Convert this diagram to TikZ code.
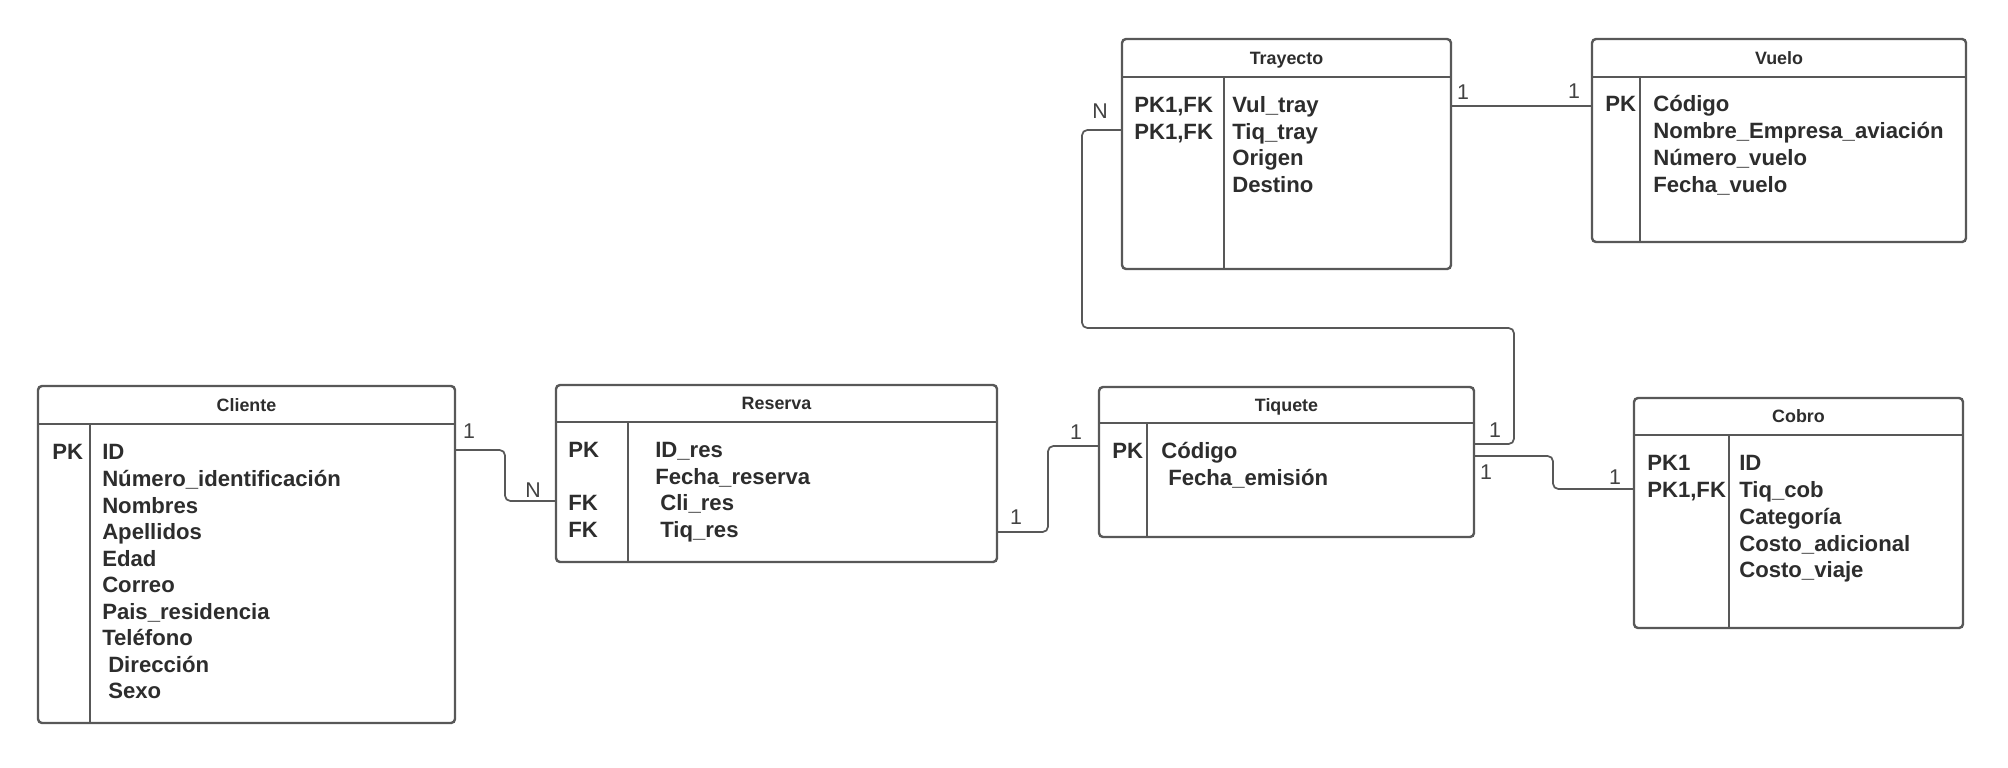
\documentclass[tikz,border=0pt]{standalone}
\usepackage{fontspec}
\setmainfont{Liberation Sans}
\begin{document}
\definecolor{lineclr}{RGB}{88,88,88}
\definecolor{txtclr}{RGB}{45,45,45}
\begin{tikzpicture}[x=0.75pt,y=-0.75pt,
  entbox/.style={draw=lineclr,line width=1.8pt,rounded corners=3pt,inner sep=0pt,fill=white},
  entline/.style={draw=lineclr,line width=1.8pt},
  enttitle/.style={anchor=base,inner sep=0pt,text=txtclr,font=\fontsize{13.4}{16}\selectfont\bfseries},
  field/.style={anchor=base west,inner sep=0pt,text=txtclr,font=\fontsize{16.6}{19}\selectfont\bfseries},
  card/.style={anchor=base,inner sep=0pt,text=txtclr!90,font=\fontsize{16}{19}\selectfont},
  conn/.style={draw=lineclr,line width=1.3pt,rounded corners=4pt}]

\useasboundingbox[fill=white] (0,0) rectangle (2008,767);

% entity box: name, left, top, right, bottom, header line y, divider x, title
\newcommand{\erentity}[8]{%
  \node[entbox,minimum width={(#4-#2)*0.75pt},minimum height={(#5-#3)*0.75pt}]
    (#1) at ({(#2+#4)/2},{(#3+#5)/2}) {};
  \draw[entline] (#2,#6) -- (#4,#6);
  \draw[entline] (#7,#6) -- (#7,#5);
  \node[enttitle] (#1-title) at ({(#2+#4)/2},{(#3+#6)/2+6.4}) {#8};
}

\erentity{cli}{38}{386}{455}{723}{424}{90}{Cliente}
\erentity{res}{556}{385}{997}{562}{422}{628}{Reserva}
\erentity{tiq}{1099}{387}{1474}{537}{423}{1147}{Tiquete}
\erentity{tra}{1122}{39}{1451}{269}{77}{1224}{Trayecto}
\erentity{vue}{1592}{39}{1966}{242}{77}{1640}{Vuelo}
\erentity{cob}{1634}{398}{1963}{628}{435}{1729}{Cobro}

% Cliente
\node[field] (cli-k1) at (52,459.9) {PK};
\foreach \t [count=\i] in {ID, Número\_identificación, Nombres, Apellidos, Edad,
    Correo, Pais\_residencia, Teléfono}
  \node[field] (cli-f\i) at (102,{452+(\i-1)*26.55+7.9}) {\t};
\node[field] (cli-f9) at (108,{452+8*26.55+7.9}) {Dirección};
\node[field] (cli-f10) at (108,{452+9*26.55+7.9}) {Sexo};

% Reserva
\node[field] (res-k1) at (568,457.9) {PK};
\node[field] (res-k3) at (568,510.9) {FK};
\node[field] (res-k4) at (568,537.9) {FK};
\node[field] (res-f1) at (655,457.9) {ID\_res};
\node[field] (res-f2) at (655,484.9) {Fecha\_reserva};
\node[field] (res-f3) at (660,510.9) {Cli\_res};
\node[field] (res-f4) at (660,537.9) {Tiq\_res};

% Tiquete
\node[field] (tiq-k1) at (1112,458.9) {PK};
\node[field] (tiq-f1) at (1161,458.9) {Código};
\node[field] (tiq-f2) at (1168,485.9) {Fecha\_emisión};

% Trayecto
\node[field] (tra-k1) at (1134,112.9) {PK1,FK};
\node[field] (tra-k2) at (1134,139.3) {PK1,FK};
\foreach \t [count=\i] in {Vul\_tray, Tiq\_tray, Origen, Destino}
  \node[field] (tra-f\i) at (1232,{105+(\i-1)*26.4+7.9}) {\t};

% Vuelo
\node[field] (vue-k1) at (1605,111.9) {PK};
\foreach \t [count=\i] in {Código, Nombre\_Empresa\_aviación, Número\_vuelo, Fecha\_vuelo}
  \node[field] (vue-f\i) at (1653,{104+(\i-1)*26.7+7.9}) {\t};

% Cobro
\node[field] (cob-k1) at (1647,470.9) {PK1};
\node[field] (cob-k2) at (1647,497.6) {PK1,FK};
\foreach \t [count=\i] in {ID, Tiq\_cob, Categoría, Costo\_adicional, Costo\_viaje}
  \node[field] (cob-f\i) at (1739,{463+(\i-1)*26.7+7.9}) {\t};

% relationships
\draw[conn] (cli.east |- 0,450) -- (505,450) -- (505,501) -- (res.west |- 0,501);
\node[card] (c1a) at (469,438.6) {1};
\node[card] (c1b) at (533,497.6) {N};

\draw[conn] (res.east |- 0,532) -- (1048,532) -- (1048,446) -- (tiq.west |- 0,446);
\node[card] (c2a) at (1016,524.6) {1};
\node[card] (c2b) at (1076,439.6) {1};

\draw[conn] (tra.east |- 0,106) -- (vue.west |- 0,106);
\node[card] (c3a) at (1463,99.6) {1};
\node[card] (c3b) at (1574,98.6) {1};

\draw[conn] (tra.west |- 0,130) -- (1082,130) -- (1082,328) -- (1514,328)
  -- (1514,444) -- (tiq.east |- 0,444);
\node[card] (c4a) at (1100,118.6) {N};
\node[card] (c4b) at (1495,437.6) {1};

\draw[conn] (tiq.east |- 0,456) -- (1553,456) -- (1553,489) -- (cob.west |- 0,489);
\node[card] (c5a) at (1486,479.6) {1};
\node[card] (c5b) at (1615,484.6) {1};

\end{tikzpicture}
\end{document}
